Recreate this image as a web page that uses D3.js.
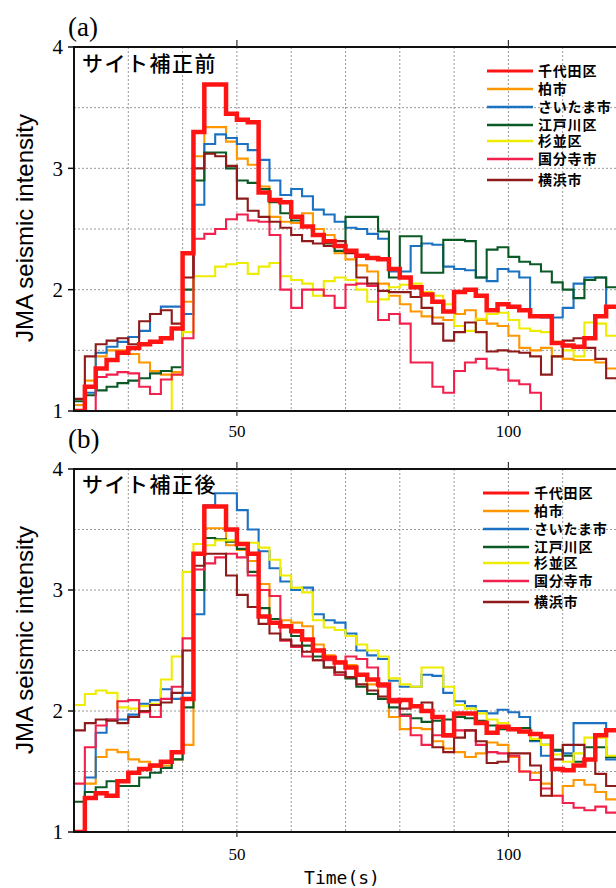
<!DOCTYPE html>
<html>
<head>
<meta charset="utf-8">
<script src="https://cdn.jsdelivr.net/npm/d3@7"></script>
<style>
  body { margin: 0; background: #ffffff; }
  svg { display: block; }
</style>
</head>
<body>
<svg id="chart" width="616" height="888"></svg>
<script>
// sample times (s), values every 2 s
const times = [20, 22, 24, 26, 28, 30, 32, 34, 36, 38,
               40, 42, 44, 46, 48, 50, 52, 54, 56, 58,
               60, 62, 64, 66, 68, 70, 72, 74, 76, 78,
               80, 82, 84, 86, 88, 90, 92, 94, 96, 98,
               100, 102, 104, 106, 108, 110, 112, 114, 116, 118,
               120];

const stations = ["千代田区", "柏市", "さいたま市", "江戸川区", "杉並区", "国分寺市", "横浜市"];
const yTicks = [1, 2, 3, 4];
const xTickLabels = [50, 100];

// (a) before site correction
const beforeChiyoda = [1.0, 1.2, 1.35, 1.42, 1.48, 1.52, 1.55, 1.57, 1.6, 1.68,
  2.3, 3.3, 3.69, 3.69, 3.45, 3.4, 3.38, 2.8, 2.74, 2.72,
  2.6, 2.52, 2.45, 2.4, 2.36, 2.32, 2.28, 2.26, 2.25, 2.17,
  2.1, 2.02, 1.96, 1.9, 1.82, 1.98, 2.0, 1.95, 1.83, 1.88,
  1.86, 1.83, 1.78, 1.78, 1.56, 1.54, 1.53, 1.6, 1.78, 1.86,
  1.86];
const beforeKashiwa = [1.05, 1.25, 1.45, 1.5, 1.5, 1.47, 1.4, 1.33, 1.3, 1.32,
  1.9, 3.1, 3.34, 3.34, 3.22, 3.08, 3.03, 2.85, 2.6, 2.56,
  2.55, 2.63, 2.5, 2.45, 2.3, 2.25, 2.2, 2.15, 2.05, 1.95,
  1.88, 1.82, 1.78, 1.77, 1.75, 1.8, 1.83, 1.75, 1.72, 1.7,
  1.62, 1.52, 1.5, 1.52, 1.45, 1.43, 1.42, 1.42, 1.4, 1.35,
  1.22];
const beforeSaitama = [1.0, 1.15, 1.48, 1.53, 1.57, 1.61, 1.66, 1.8, 1.86, 1.86,
  1.8, 2.7, 3.2, 3.28, 3.25, 3.2, 3.15, 3.07, 2.9, 2.78,
  2.83, 2.77, 2.66, 2.62, 2.56, 2.51, 2.5, 2.46, 2.42, 2.15,
  2.15, 2.36, 2.38, 2.37, 2.19, 2.17, 2.16, 2.1, 2.07, 2.17,
  2.15, 2.1, 1.78, 1.77, 1.77, 1.85, 2.05, 2.1, 2.1, 1.86,
  1.7];
const beforeEdogawa = [1.08, 1.13, 1.17, 1.2, 1.23, 1.25, 1.27, 1.31, 1.33, 1.36,
  2.0, 2.9, 3.13, 3.13, 3.0, 2.9, 2.88, 2.83, 2.72, 2.63,
  2.57, 2.52, 2.45, 2.38, 2.32, 2.6, 2.6, 2.6, 2.48, 2.1,
  2.44, 2.44, 2.14, 2.14, 2.41, 2.41, 2.4, 2.1, 2.33, 2.35,
  2.27, 2.23, 2.21, 2.15, 2.06, 2.0, 1.93, 2.08, 2.1, 2.02,
  1.98];
const beforeSuginami = [null, null, null, null, null, null, null, null, 1.0, 1.3,
  1.65, 2.11, 2.11, 2.19, 2.21, 2.22, 2.13, 2.19, 2.22, 2.11,
  2.08, 2.05, 1.95, 2.07, 2.1, 2.08, 2.0, 1.9, 1.92, 2.02,
  2.04, 2.05, 1.98, 1.95, 1.88, 1.7, 1.66, 1.76, 1.8, 1.81,
  1.75, 1.68, 1.66, 1.65, 1.57, 1.5, 1.45, 1.73, 1.72, 1.62,
  1.52];
const beforeKokubunji = [null, 1.0, 1.28, 1.3, 1.32, 1.31, 1.2, 1.14, 1.26, 1.3,
  1.6, 2.42, 2.46, 2.5, 2.58, 2.62, 2.57, 2.56, 2.45, 2.0,
  1.85, 2.0, 2.0, 1.95, 1.85, 2.04, 2.05, 2.03, 1.75, 1.8,
  1.72, 1.4, 1.4, 1.2, 1.15, 1.33, 1.4, 1.43, 1.35, 1.34,
  1.25, 1.22, 1.15, 1.0, null, null, null, null, null, null,
  null];
const beforeYokohama = [1.1, 1.45, 1.55, 1.58, 1.6, 1.55, 1.74, 1.8, 1.83, 1.72,
  2.1, 3.0, 3.12, 3.1, 3.02, 2.75, 2.65, 2.6, 2.56, 2.51,
  2.45, 2.4, 2.38, 2.36, 2.4, 2.3, 2.1, 2.05, 1.99, 1.98,
  1.98, 1.94, 1.85, 1.72, 1.58, 1.65, 1.73, 1.65, 1.49, 1.5,
  1.49, 1.48, 1.45, 1.3, 1.45, 1.58, 1.6, 1.52, 1.43, 1.27,
  1.23];

// (b) after site correction
const afterChiyoda = [1.0, 1.28, 1.32, 1.3, 1.42, 1.49, 1.52, 1.55, 1.58, 1.66,
  2.1, 3.3, 3.69, 3.69, 3.5, 3.38, 3.3, 2.78, 2.73, 2.7,
  2.66, 2.59, 2.5, 2.44, 2.4, 2.36, 2.3, 2.26, 2.22, 2.08,
  2.09, 2.04, 2.0, 1.95, 1.8, 1.98, 1.98, 1.9, 1.82, 1.87,
  1.85, 1.83, 1.81, 1.79, 1.52, 1.51, 1.55, 1.6, 1.8, 1.84,
  1.86];
const afterKashiwa = [null, 1.4, 1.62, 1.68, 1.66, 1.6, 1.58, 1.54, 1.55, 1.6,
  1.72, 3.0, 3.51, 3.51, 3.37, 3.33, 3.24, 3.05, 2.76, 2.75,
  2.73, 2.7, 2.55, 2.46, 2.41, 2.38, 2.29, 2.22, 2.1, 1.95,
  1.85, 1.86, 1.85, 1.75, 1.69, 1.66, 1.62, 1.65, 1.74, 1.72,
  1.62, 1.5, 1.49, 1.4, 1.3, 1.38, 1.43, 1.39, 1.33, 1.27,
  1.12];
const afterSaitama = [1.0, 1.45, 1.82, 1.93, 1.93, 1.97, 2.06, 2.09, 2.18, 2.1,
  2.15, 2.8, 3.7, 3.8, 3.8, 3.66, 3.5, 3.32, 3.18, 3.07,
  3.0, 3.02, 2.8, 2.75, 2.73, 2.64, 2.5, 2.46, 2.43, 2.25,
  2.2, 2.2, 2.3, 2.29, 2.15, 2.08, 2.04, 2.0, 1.98, 2.01,
  1.99, 1.95, 1.75, 1.63, 1.67, 1.65, 1.9, 1.9, 1.9, 1.6,
  1.57];
const afterEdogawa = [1.25, 1.33, 1.37, 1.42, 1.38, 1.38, 1.45, 1.49, 1.53, 1.6,
  2.03, 3.0, 3.43, 3.42, 3.4, 3.34, 3.15, 2.85, 2.76, 2.7,
  2.62, 2.54, 2.45, 2.36, 2.3, 2.27, 2.2, 2.14, 2.1, 2.03,
  1.97, 1.94, 1.91, 1.92, 1.93, 1.95, 1.94, 1.92, 1.88, 1.85,
  1.85, 1.86, 1.76, 1.72, 1.68, 1.63, 1.58, 1.7, 1.7, 1.62,
  1.58];
const afterSuginami = [2.05, 2.14, 2.17, 2.15, 2.03, 2.02, 2.04, 2.06, 2.26, 2.45,
  3.15, 3.38, 3.37, 3.41, 3.41, 3.39, 3.39, 3.35, 3.25, 3.12,
  3.02, 2.98, 2.75, 2.69, 2.67, 2.62, 2.55, 2.5, 2.45, 2.27,
  2.22, 2.2, 2.36, 2.36, 2.2, 2.05, 2.02, 1.98, 1.93, 1.9,
  1.86, 1.82, 1.77, 1.72, 1.64, 1.58, 1.65, 1.78, 1.78, 1.63,
  1.6];
const afterKokubunji = [1.4, 1.7, 1.88, 1.93, 2.08, 2.09, 1.99, 1.95, 2.1, 2.2,
  2.6, 3.17, 3.22, 3.27, 3.3, 3.27, 3.12, 3.0, 2.95, 2.58,
  2.53, 2.45, 2.42, 2.42, 2.3, 2.45, 2.43, 2.36, 2.2, 2.1,
  1.96, 1.8, 1.72, 1.8, 1.79, 1.84, 1.84, 1.72, 1.66, 1.65,
  1.63, 1.5, 1.43, 1.36, 1.3, 1.24, 1.2, 1.18, 1.21, 1.16,
  1.16];
const afterYokohama = [1.84, 1.9, 1.93, 1.92, 1.9, 1.95, 2.0, 2.05, 2.07, 2.15,
  2.5, 3.2, 3.3, 3.3, 3.12, 2.96, 2.86, 2.72, 2.64, 2.59,
  2.54, 2.49, 2.42, 2.36, 2.32, 2.28, 2.22, 2.17, 2.12, 2.08,
  2.02, 2.04, 2.07, 1.7, 1.66, 1.78, 1.84, 1.75, 1.57, 1.58,
  1.65, 1.65, 1.55, 1.3, 1.6, 1.72, 1.72, 1.6, 1.48, 1.38,
  1.35];

// styles per station (same order as stations)
const colors = ["#ff1414", "#ff9800", "#1c72c2", "#0b5a26", "#eeec00", "#f2204c", "#8e1a1a"];
const widths = [4.5, 2.1, 2.1, 2.1, 2.1, 2.1, 2.1];

const svg = d3.select("#chart");
const x = d3.scaleLinear().domain([20, 120]).range([74, 617]);

const panels = [
  { id: "a", top: 47, bottom: 411, label: "(a)", labelY: 36, title: "サイト補正前", titleY: 71,
    yTitleY: 228, tickY: 437, legendX: 487, legendY0: 47,
    series: [beforeChiyoda, beforeKashiwa, beforeSaitama, beforeEdogawa, beforeSuginami, beforeKokubunji, beforeYokohama] },
  { id: "b", top: 469, bottom: 832, label: "(b)", labelY: 448, title: "サイト補正後", titleY: 492,
    yTitleY: 640, tickY: 860, legendX: 483, legendY0: 469,
    series: [afterChiyoda, afterKashiwa, afterSaitama, afterEdogawa, afterSuginami, afterKokubunji, afterYokohama] }
];

// legend rows (offset from panel top)
const legendRows = [24, 42, 60, 78, 94, 112, 133];

panels.forEach(p => {
  const y = d3.scaleLinear().domain([1, 4]).range([p.bottom, p.top]);
  const g = svg.append("g");

  // clip
  svg.append("clipPath").attr("id", "clip-" + p.id)
    .append("rect").attr("x", x(20)).attr("y", p.top).attr("width", 616 - x(20)).attr("height", p.bottom - p.top);

  // grid
  const grid = g.append("g").attr("stroke", "#8c8c8c").attr("stroke-width", 0.9).attr("stroke-dasharray", "2,2");
  grid.selectAll(".gx").data(d3.range(30, 120, 10)).join("line")
    .attr("x1", d => x(d)).attr("x2", d => x(d)).attr("y1", p.top).attr("y2", p.bottom);
  grid.selectAll(".gy").data([1.5, 2, 2.5, 3, 3.5]).join("line")
    .attr("x1", x(20)).attr("x2", 616).attr("y1", d => y(d)).attr("y2", d => y(d));

  // lines, thick red last so it sits on top
  const line = d3.line()
    .defined(d => d.v != null)
    .x(d => x(d.t)).y(d => y(d.v))
    .curve(d3.curveStepAfter);
  const order = [1, 2, 3, 4, 5, 6, 0];
  const lines = g.append("g").attr("clip-path", "url(#clip-" + p.id + ")");
  order.forEach(i => {
    const pts = times.map((t, k) => ({ t: t, v: p.series[i][k] }));
    lines.append("path").datum(pts)
      .attr("d", line)
      .attr("fill", "none")
      .attr("stroke", colors[i])
      .attr("stroke-width", widths[i])
      .attr("stroke-linejoin", "miter");
  });

  // frame
  const frame = g.append("g").attr("stroke", "#111").attr("stroke-width", 2);
  frame.append("line").attr("x1", x(20)).attr("x2", x(20)).attr("y1", p.top - 1).attr("y2", p.bottom + 1);
  frame.append("line").attr("x1", x(20)).attr("x2", 616).attr("y1", p.top).attr("y2", p.top);
  frame.append("line").attr("x1", x(20)).attr("x2", 616).attr("y1", p.bottom).attr("y2", p.bottom);

  // y ticks and labels
  g.selectAll(".yt").data(yTicks).join("line")
    .attr("x1", x(20) - 6).attr("x2", x(20)).attr("y1", d => y(d)).attr("y2", d => y(d))
    .attr("stroke", "#111").attr("stroke-width", 1.5);
  g.selectAll(".yl").data(yTicks).join("text")
    .attr("x", x(20) - 11).attr("y", d => y(d)).attr("dy", "0.35em")
    .attr("text-anchor", "end")
    .attr("font-family", "Liberation Serif, serif").attr("font-size", 21)
    .text(d => d);

  // x ticks and labels
  xTickLabels.forEach(t => {
    g.append("line").attr("x1", x(t)).attr("x2", x(t)).attr("y1", p.top - 7).attr("y2", p.top)
      .attr("stroke", "#333").attr("stroke-width", 1.2);
    g.append("line").attr("x1", x(t)).attr("x2", x(t)).attr("y1", p.bottom).attr("y2", p.bottom + 5)
      .attr("stroke", "#333").attr("stroke-width", 1.2);
  });
  g.selectAll(".xl").data(xTickLabels).join("text")
    .attr("x", d => x(d)).attr("y", p.tickY)
    .attr("text-anchor", "middle")
    .attr("font-family", "Liberation Serif, serif").attr("font-size", 17)
    .text(d => d);

  // panel letter
  g.append("text").attr("x", 68).attr("y", p.labelY)
    .attr("font-family", "Liberation Serif, serif").attr("font-size", 27)
    .text(p.label);

  // in-panel title
  g.append("text").attr("x", 82).attr("y", p.titleY)
    .attr("font-family", "Noto Sans CJK JP, sans-serif").attr("font-size", 21).attr("font-weight", 500)
    .attr("letter-spacing", 1.5)
    .text(p.title);

  // y axis title
  g.append("text")
    .attr("transform", "translate(33," + p.yTitleY + ") rotate(-90)")
    .attr("text-anchor", "middle")
    .attr("font-family", "Liberation Sans, Arial, sans-serif").attr("font-size", 24)
    .text("JMA seismic intensity");

  // legend
  const lg = g.append("g");
  stations.forEach((s, i) => {
    const ly = p.legendY0 + legendRows[i];
    lg.append("line").attr("x1", p.legendX).attr("x2", p.legendX + 46)
      .attr("y1", ly).attr("y2", ly)
      .attr("stroke", colors[i]).attr("stroke-width", i === 0 ? 3 : 2.6);
    lg.append("text").attr("x", p.legendX + 51).attr("y", ly).attr("dy", "0.36em")
      .attr("font-family", "Noto Sans CJK JP, sans-serif").attr("font-size", 14).attr("font-weight", 700)
      .attr("letter-spacing", 0.8)
      .text(s);
  });
});

// x axis title
svg.append("text").attr("x", 342).attr("y", 884)
  .attr("text-anchor", "middle")
  .attr("font-family", "DejaVu Sans Mono, monospace").attr("font-size", 18)
  .text("Time(s)");
</script>
</body>
</html>
